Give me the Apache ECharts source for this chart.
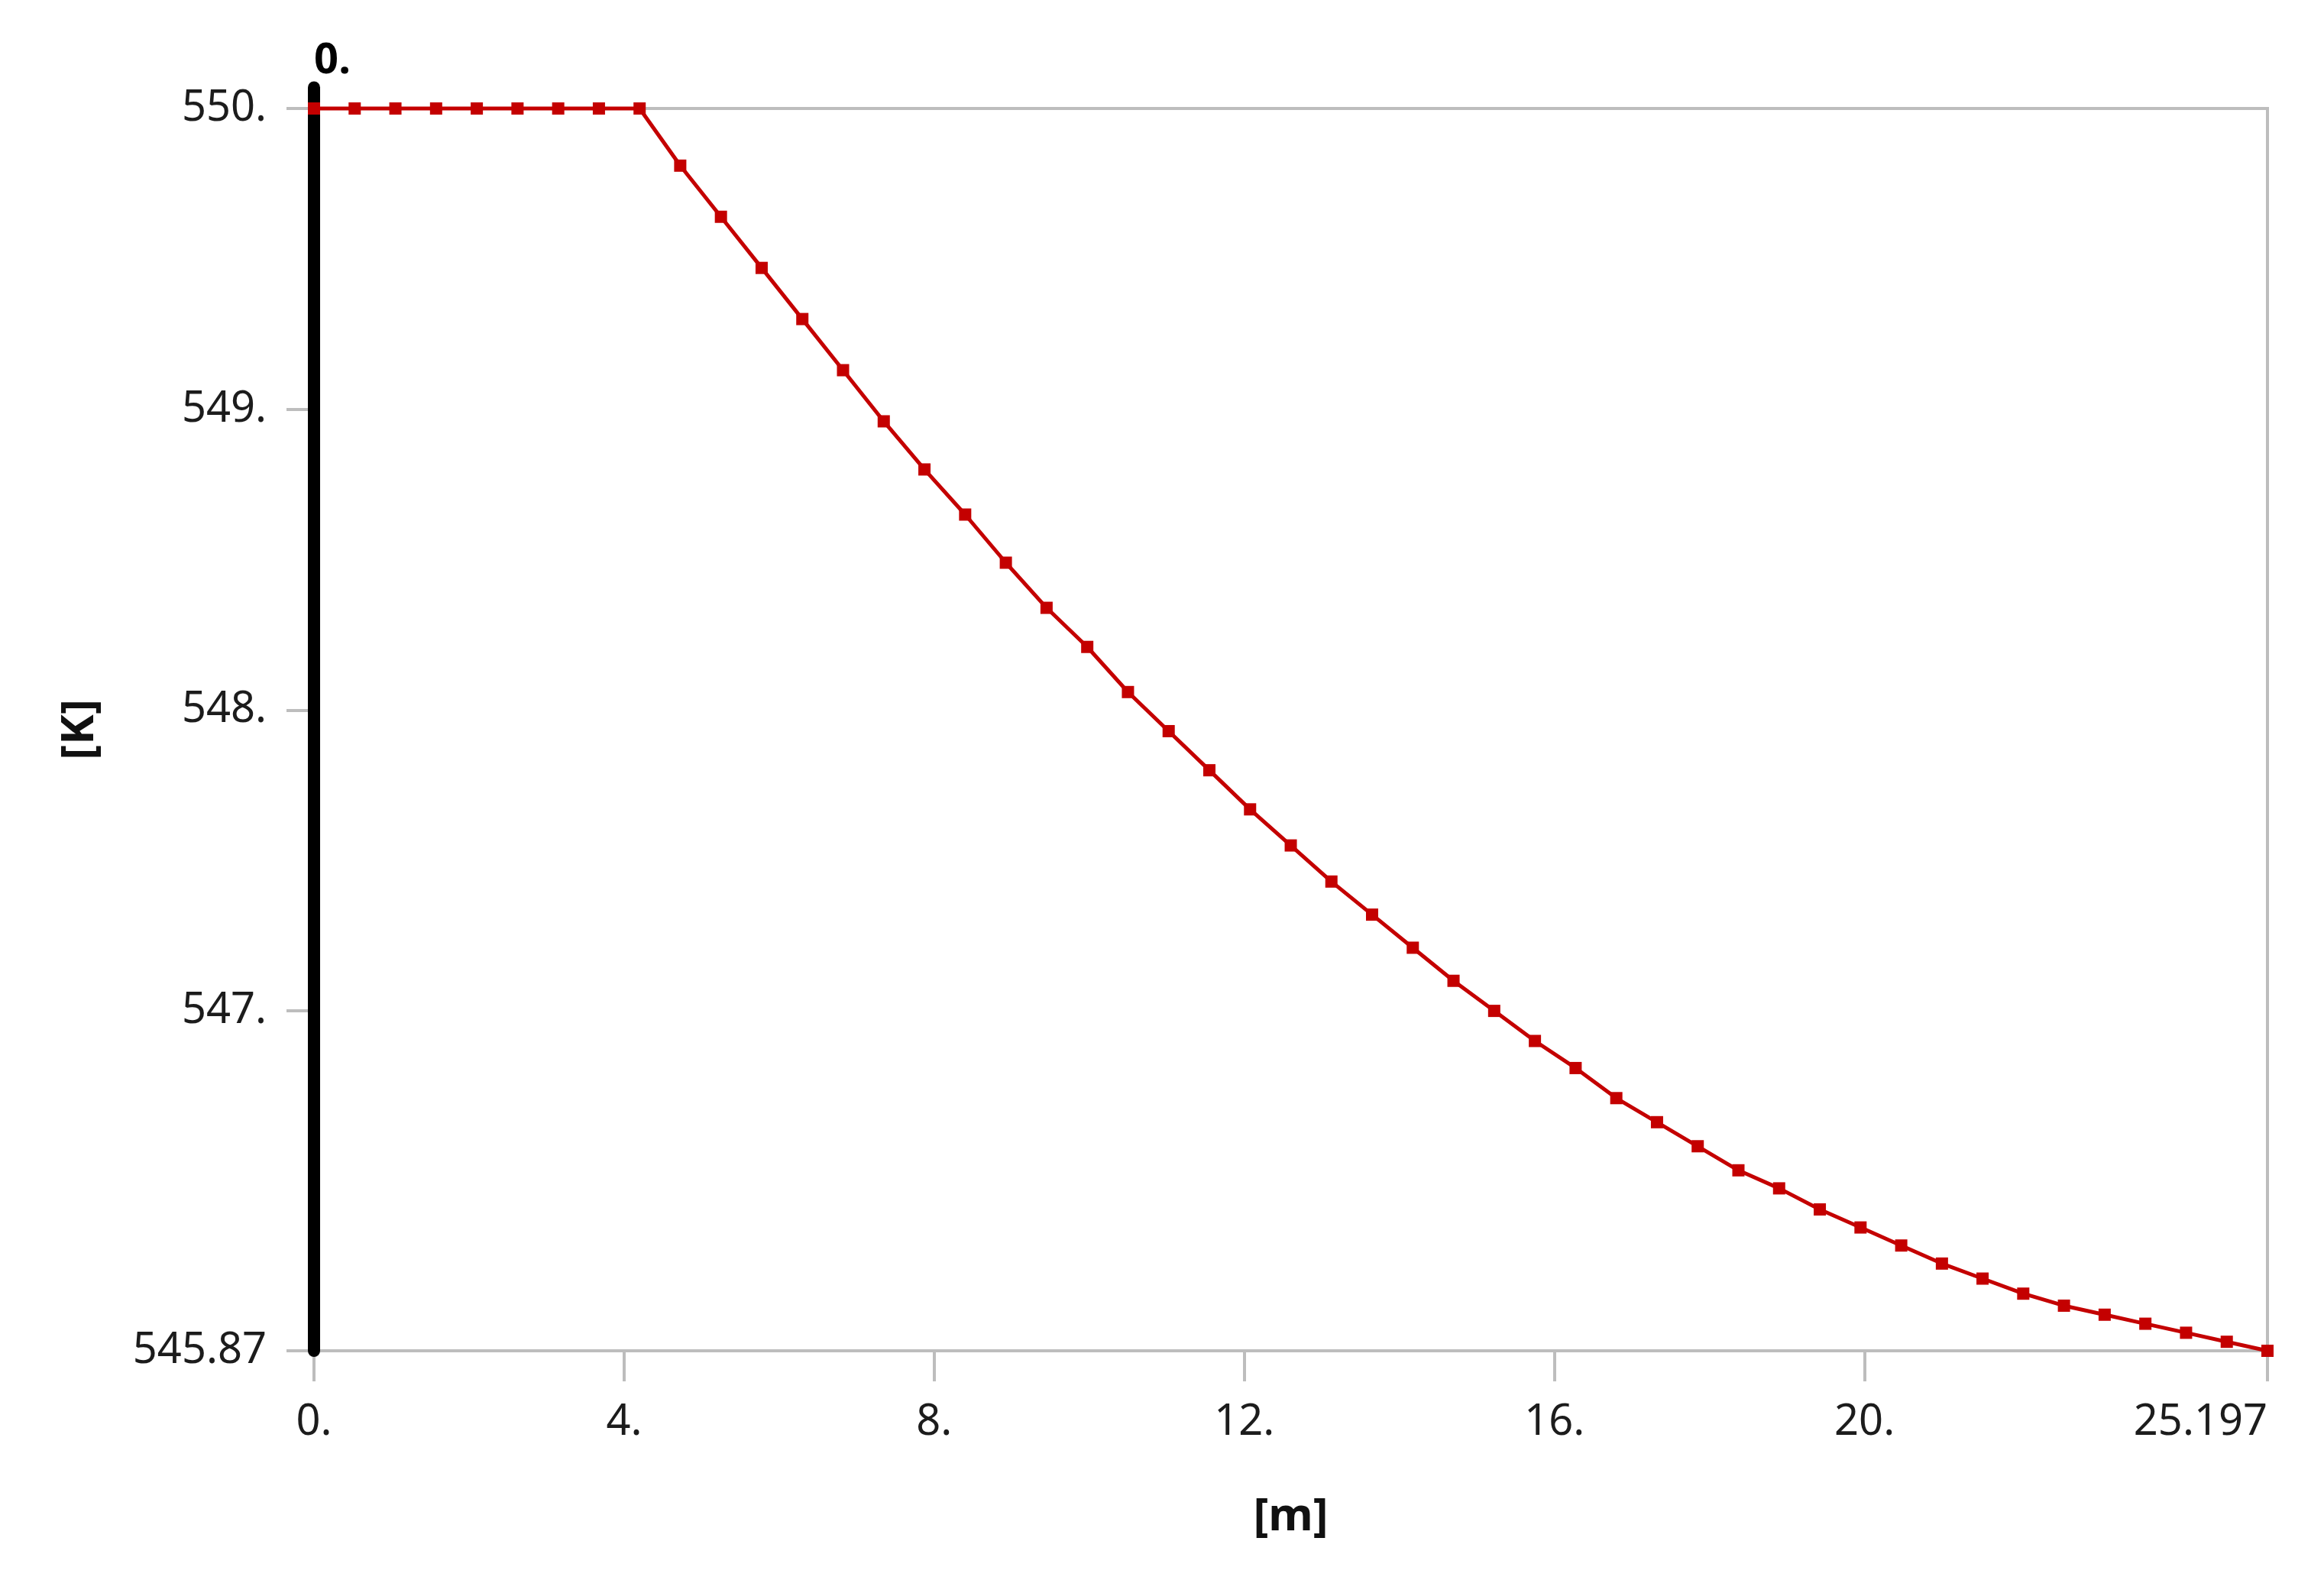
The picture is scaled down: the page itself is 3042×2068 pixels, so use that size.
<!DOCTYPE html>
<html>
<head>
<meta charset="utf-8">
<style>
  html, body { margin: 0; padding: 0; background: #ffffff; }
  #chart { width: 3042px; height: 2068px; }
</style>
<script src="https://cdn.jsdelivr.net/npm/echarts@6/dist/echarts.min.js"></script>
</head>
<body>
<div id="chart"></div>
<script>
// ---- data ----
const positionsM = [0, 0.525, 1.050, 1.575, 2.100, 2.625, 3.150, 3.675, 4.200, 4.724,
  5.249, 5.774, 6.299, 6.824, 7.349, 7.874, 8.399, 8.924, 9.449, 9.974,
  10.499, 11.024, 11.549, 12.074, 12.599, 13.123, 13.648, 14.173, 14.698, 15.223,
  15.748, 16.273, 16.798, 17.323, 17.848, 18.373, 18.898, 19.423, 19.948, 20.473,
  20.998, 21.522, 22.047, 22.572, 23.097, 23.622, 24.147, 24.672, 25.197];
const temperatureK = [550.00, 550.00, 550.00, 550.00, 550.00, 550.00, 550.00, 550.00, 550.00, 549.81,
  549.64, 549.47, 549.30, 549.13, 548.96, 548.80, 548.65, 548.49, 548.34, 548.21,
  548.06, 547.93, 547.80, 547.67, 547.55, 547.43, 547.32, 547.21, 547.10, 547.00,
  546.90, 546.81, 546.71, 546.63, 546.55, 546.47, 546.41, 546.34, 546.28, 546.22,
  546.16, 546.11, 546.06, 546.02, 545.99, 545.96, 545.93, 545.90, 545.87];
const xTickValues = [0, 4, 8, 12, 16, 20, 25.197];
const xTickLabels = ['0.', '4.', '8.', '12.', '16.', '20.', '25.197'];
const yTickValues = [545.87, 547, 548, 549, 550];
const yTickLabels = ['545.87', '547.', '548.', '549.', '550.'];
const xMin = 0, xMax = 25.197;
const yMin = 545.87, yMax = 550;
const probeX = 0;
const probeLabel = '0.';
const probeTopK = 550.07;
const xName = '[m]';
const yName = '[K]';

// ---- chart ----
const chart = echarts.init(document.getElementById('chart'), null, { renderer: 'canvas' });
const font = 'Noto Sans';
const textColor = '#1c1c1c';
const gray = '#bdbdbd';

const pts = positionsM.map((x, i) => [x, temperatureK[i]]);

function lookup(values, labels) {
  return function (v) {
    for (let i = 0; i < values.length; i++) {
      if (Math.abs(values[i] - v) < 1e-6) return labels[i];
    }
    return '';
  };
}

chart.setOption({
  animation: false,
  backgroundColor: '#ffffff',
  grid: {
    left: 411, right: 74, top: 142, bottom: 300,
    outerBoundsMode: 'none', containLabel: false,
    show: true, borderColor: gray, borderWidth: 4, backgroundColor: 'transparent'
  },
  xAxis: {
    type: 'value', min: xMin, max: xMax,
    name: xName, nameLocation: 'middle', nameGap: 188,
    nameTextStyle: { fontFamily: font, fontSize: 60, fontWeight: 'bold', color: '#111' },
    axisLine: { show: true, lineStyle: { color: gray, width: 4 } },
    axisTick: { show: true, length: 40, customValues: xTickValues, lineStyle: { color: gray, width: 4 } },
    axisLabel: {
      customValues: xTickValues, formatter: lookup(xTickValues, xTickLabels),
      fontFamily: font, fontSize: 56, color: textColor, margin: 66,
      alignMaxLabel: 'right'
    },
    splitLine: { show: false }
  },
  yAxis: {
    type: 'value', min: yMin, max: yMax,
    name: yName, nameLocation: 'middle', nameGap: 276, nameRotate: 90,
    nameTextStyle: { fontFamily: font, fontSize: 60, fontWeight: 'bold', color: '#111' },
    axisLine: { show: true, lineStyle: { color: gray, width: 4 } },
    axisTick: { show: true, length: 36, customValues: yTickValues, lineStyle: { color: gray, width: 4 } },
    axisLabel: {
      customValues: yTickValues, formatter: lookup(yTickValues, yTickLabels),
      fontFamily: font, fontSize: 56, color: textColor, margin: 62
    },
    splitLine: { show: false }
  },
  series: [
    {
      name: 'probe', type: 'line', clip: false, z: 2,
      data: [[probeX, yMin], { value: [probeX, probeTopK], label: {
        show: true, formatter: probeLabel, position: 'top', distance: 6, offset: [24, 0],
        fontFamily: font, fontSize: 56, fontWeight: 'bold', color: '#000'
      } }],
      symbol: 'circle', symbolSize: 1, showSymbol: true,
      itemStyle: { color: '#000' },
      lineStyle: { color: '#000', width: 16, cap: 'round' },
      silent: true
    },
    {
      name: 'T', type: 'line', z: 3, clip: false,
      data: pts,
      symbol: 'rect', symbolSize: 16,
      itemStyle: { color: '#c40000' },
      lineStyle: { color: '#c40000', width: 5 }
    }
  ]
});
</script>
</body>
</html>
